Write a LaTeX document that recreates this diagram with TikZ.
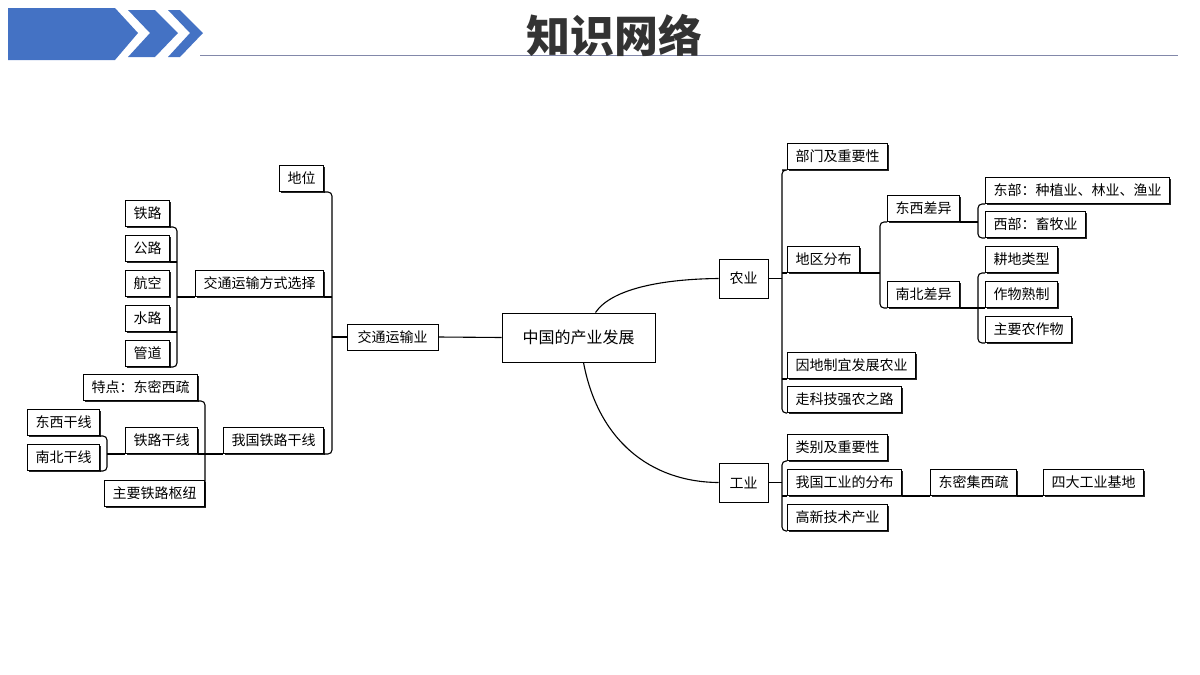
\documentclass[tikz,border=0pt]{standalone}
\usepackage{fontspec}
\newfontfamily\cjk{Noto Sans CJK SC}
\usetikzlibrary{shadows}
\definecolor{hdblue}{RGB}{68,114,196}
\tikzset{every picture/.style={line width=0.75pt}}
\tikzset{
  box/.style={draw, fill=white, line width=1pt, inner xsep=8pt, inner ysep=0pt,
    minimum height=26pt, font=\cjk\fontsize{14}{14}\selectfont,
    drop shadow={shadow xshift=1.4pt, shadow yshift=-1.4pt, fill=black!85, opacity=1}},
  rbox/.style={box, anchor=south west},
  lbox/.style={box, anchor=south east},
  link/.style={line width=1.1pt, rounded corners=4pt}
}

\begin{document}
\begin{tikzpicture}[x=1pt,y=1pt,yscale=-1,xscale=1]
\useasboundingbox (0,0) rectangle (1200,675);

%Header
\fill [hdblue] (8,8) -- (115,8) -- (138,33) -- (115,60) -- (8,60) -- cycle ;
\fill [hdblue] (128,10) -- (155,10) -- (178,33) -- (155,57) -- (128,57) -- (150,33) -- cycle ;
\fill [hdblue] (168,10) -- (180,10) -- (203,33) -- (180,57) -- (168,57) -- (190,33) -- cycle ;
\draw [color={rgb,255:red,130;green,136;blue,170}, line width=1pt] (200,55) -- (1178,55) ;
\node (title) at (614,35) {\cjk\fontsize{44}{44}\selectfont\bfseries\color{black!80} 知识网络};

% Center
\node [box, minimum height=49pt, minimum width=153pt, font=\cjk\fontsize{16}{16}\selectfont] (root) at (578.5,337.5) {中国的产业发展};
\node [box, minimum width=91pt] (jiaotong) at (392.5,337) {交通运输业};
\node [box, minimum width=49pt, minimum height=39pt] (nongye) at (743.5,278.5) {农业};
\node [box, minimum width=49pt, minimum height=39pt] (gongye) at (743.5,482.5) {工业};

%Agriculture
\node [rbox] (bumen) at (787,170) {部门及重要性};
\node [rbox] (diqu) at (787,273) {地区分布};
\node [rbox] (yindi) at (787,379) {因地制宜发展农业};
\node [rbox] (keji) at (787,413) {走科技强农之路};
\node [rbox] (dongxi) at (887,222) {东西差异};
\node [rbox] (nanbei) at (887,308) {南北差异};
\node [rbox] (dongbu) at (985,204) {东部：种植业、林业、渔业};
\node [rbox] (xibu) at (985,238) {西部：畜牧业};
\node [rbox] (gengdi) at (985,273) {耕地类型};
\node [rbox] (zuowu) at (985,308) {作物熟制};
\node [rbox] (zhuyao) at (985,343) {主要农作物};

%Industry
\node [rbox] (leibie) at (787,461) {类别及重要性};
\node [rbox] (fenbu) at (787,496) {我国工业的分布};
\node [rbox] (gaoxin) at (787,531) {高新技术产业};
\node [rbox] (dongmi) at (930,496) {东密集西疏};
\node [rbox] (sida) at (1043,496) {四大工业基地};

%Transport
\node [lbox] (diwei) at (324,192) {地位};
\node [lbox] (fangshi) at (324,297) {交通运输方式选择};
\node [lbox] (ganxian) at (324,454) {我国铁路干线};
\node [lbox] (tielu) at (170,227) {铁路};
\node [lbox] (gonglu) at (170,262) {公路};
\node [lbox] (hangkong) at (170,297) {航空};
\node [lbox] (shuilu) at (170,332) {水路};
\node [lbox] (guandao) at (170,367) {管道};
\node [lbox] (tedian) at (198,401) {特点：东密西疏};
\node [lbox] (tlgx) at (198,454) {铁路干线};
\node [lbox] (shuniu) at (205,507) {主要铁路枢纽};
\node [lbox] (dxgx) at (100,436) {东西干线};
\node [lbox] (nbgx) at (100,471) {南北干线};

%Connectors
\draw [link] ([xshift=17pt]root.north) .. controls (612,288) and (665,279) .. (nongye.west) ;
\draw [link] ([xshift=5pt]root.south) .. controls (598,440) and (650,482) .. (gongye.west) ;
\draw [link] (root.west) -- (jiaotong.east) ;

\coordinate (bA) at ([xshift=-5pt]bumen.south west);
\draw [link] (bA |- bumen.south) -- (bumen.south west) (bumen.south west) -| (bA |- keji.south) -- (keji.south west) ;
\draw [link] (nongye.east) -- (bA |- nongye.east) ;
\foreach \n in {diqu,yindi} \draw [link] (bA |- \n.south) -- (\n.south west) ;

\coordinate (bB) at ([xshift=-7pt]dongxi.south west);
\draw [link] (dongxi.south west) -| (bB |- nanbei.south) -- (nanbei.south west) ;
\draw [link] (diqu.south east) -- (bB |- diqu.south) ;

\coordinate (bC) at ([xshift=-7pt]dongbu.south west);
\draw [link] (dongbu.south west) -| (bC |- xibu.south) -- (xibu.south west) ;
\draw [link] (dongxi.south east) -- (bC |- dongxi.south) ;
\draw [link] (gengdi.south west) -| (bC |- zhuyao.south) -- (zhuyao.south west) ;
\draw [link] (nanbei.south east) -- (bC |- nanbei.south) -- (zuowu.south west) ;

\draw [link] (leibie.south west) -| (bA |- gaoxin.south) -- (gaoxin.south west) ;
\draw [link] (gongye.east) -- (bA |- gongye.east) ;
\draw [link] (bA |- fenbu.south) -- (fenbu.south west) ;
\draw [link] (fenbu.south east) -- (dongmi.south west) (dongmi.south east) -- (sida.south west) ;

\coordinate (bD) at ([xshift=8pt]diwei.south east);
\draw [link] (diwei.south east) -| (bD |- ganxian.south) -- (ganxian.south east) ;
\draw [link] (jiaotong.west) -- (bD |- jiaotong.west) ;
\draw [link] (bD |- fangshi.south) -- (fangshi.south east) ;

\coordinate (bE) at ([xshift=7pt]tielu.south east);
\draw [link] (tielu.south east) -| (bE |- guandao.south) -- (guandao.south east) ;
\draw [link] (fangshi.south west) -- (bE |- fangshi.south) ;
\foreach \n in {gonglu,shuilu} \draw [link] (bE |- \n.south) -- (\n.south east) ;

\coordinate (bF) at ([xshift=7pt]tedian.south east);
\draw [link] (tedian.south east) -| (bF |- shuniu.south) -- (shuniu.south east) ;
\draw [link] (ganxian.south west) -- (tlgx.south east) ;

\coordinate (bG) at ([xshift=7pt]dxgx.south east);
\draw [link] (dxgx.south east) -| (bG |- nbgx.south) -- (nbgx.south east) ;
\draw [link] (tlgx.south west) -- (bG |- tlgx.south) ;

\end{tikzpicture}
\end{document}
